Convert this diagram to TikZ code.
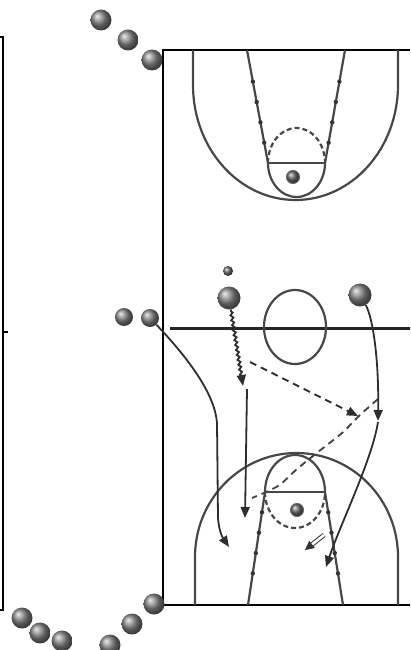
\documentclass[tikz,border=0pt]{standalone}
\usetikzlibrary{arrows.meta,decorations.pathmorphing,decorations.markings}
\begin{document}
\begin{tikzpicture}[x=1pt,y=-1pt,
  frame/.style={draw=black, line width=2.8pt},
  court/.style={draw=black!72, line width=2.2pt},
  hashdot/.style={fill=black!80},
  lanemarks/.style={court, postaction={decorate}, decoration={markings,
     mark=at position 0.28 with {\fill[hashdot] (0,0) circle (2.2pt);},
     mark=at position 0.46 with {\fill[hashdot] (0,0) circle (2.2pt);},
     mark=at position 0.64 with {\fill[hashdot] (0,0) circle (2.2pt);},
     mark=at position 0.82 with {\fill[hashdot] (0,0) circle (2.2pt);}}},
  player/.style={circle, inner sep=0pt, minimum size=21pt, shading=ball, ball color=black!48},
  smallplayer/.style={player, minimum size=18pt},
  bigplayer/.style={player, minimum size=23pt},
  ballnode/.style={circle, inner sep=0pt, minimum size=10pt, shading=ball, ball color=black!60},
  rimball/.style={ballnode, minimum size=13pt, draw=black!60, line width=1pt},
  move/.style={draw=black!82, line width=1.8pt, -{Triangle[length=11pt,width=9pt]}},
  pass/.style={move, dash pattern=on 7pt off 5pt},
  passline/.style={draw=black!75, line width=1.8pt, dash pattern=on 7pt off 5pt},
  dribble/.style={move, decorate, decoration={zigzag, segment length=5pt, amplitude=1.3pt, pre length=2pt, post length=10pt}},
  handoff/.style={draw=black!80, line width=1pt, double distance=2.6pt, -{Triangle[length=9pt,width=9pt]}}
]
\useasboundingbox (0,0) rectangle (410,650);
\clip (0,0) rectangle (410,650);

% frames
\draw[frame] (-5,37) -- (3,37) -- (3,610) -- (-5,610);
\draw[line width=1.2pt] (3,332) -- (8,332);
\draw[frame] (420,50) -- (163,50) -- (163,605) -- (420,605);

% top half court
\draw[court] (193,50) -- (193,85) arc[start angle=180, end angle=0, x radius=102.5, y radius=115] -- (398,50);
\draw[lanemarks] (247,50) -- (268,163);
\draw[lanemarks] (345,50) -- (325,163);
\draw[court] (268,163) -- (325,163);
\draw[court] (268,163) arc[start angle=180, end angle=0, x radius=28.5, y radius=34];
\draw[court, dash pattern=on 5pt off 3pt] (268,163) arc[start angle=180, end angle=360, x radius=28.5, y radius=35];
\node[rimball] (rimT) at (293,177) {};

% centre
\draw[draw=black!85, line width=3pt] (170,328) -- (420,328);
\draw[court] (295,327) ellipse[x radius=31, y radius=37];

% bottom half court
\draw[court] (195,605) -- (195,557) arc[start angle=180, end angle=360, x radius=101.5, y radius=104] -- (398,605);
\draw[lanemarks] (248,605) -- (265,492);
\draw[lanemarks] (343,605) -- (325,492);
\draw[court] (265,492) -- (325,492);
\draw[court] (265,492) arc[start angle=180, end angle=360, x radius=30, y radius=37];
\draw[court, dash pattern=on 5pt off 3pt] (265,492) arc[start angle=180, end angle=0, x radius=30, y radius=36];
\node[rimball] (rimB) at (297,510) {};

% players
\node[player] (T1) at (101,20) {};
\node[player] (T2) at (128,40) {};
\node[player] (T3) at (152,60) {};
\node[smallplayer] (M1) at (124,317) {};
\node[smallplayer] (M2) at (150,318) {};
\node[bigplayer] (P1) at (229,298) {};
\node[ballnode] (bA) at (228,271) {};
\node[bigplayer] (P2) at (360,295) {};
\node[player] (B1) at (22,618) {};
\node[player] (B2) at (40,633) {};
\node[player] (B3) at (62,641) {};
\node[player] (B4) at (110,645) {};
\node[player] (B5) at (132,624) {};
\node[player] (B6) at (154,604) {};

% movement coordinates
\coordinate (c1) at (229,547);
\coordinate (d1) at (243,386);
\coordinate (d2) at (247,389);
\coordinate (d3) at (245,518);
\coordinate (q1) at (250,362);
\coordinate (q2) at (358,416);
\coordinate (r1) at (378,421);
\coordinate (r2) at (378,422);
\coordinate (r3) at (326,567);
\coordinate (s1) at (378,399);
\coordinate (s2) at (252,498);
\coordinate (h1) at (324,535);
\coordinate (h2) at (305,550);

% cutter from the left
\draw[move] (M2) .. controls (190,360) and (215,395) .. (217,423) -- (218,518) .. controls (219,532) and (223,538) .. (c1);
% dribble and cut
\draw[dribble] (P1) -- (d1);
\draw[move] (d2) -- (d3);
% passes
\draw[pass] (q1) -- (q2);
\draw[passline] plot[smooth] coordinates {(s1) (360,415) (342,433) (318,452) (297,469) (278,486) (s2)};
% right player
\draw[move] (P2) .. controls (373,318) and (379,360) .. (r1);
\draw[move] (r2) .. controls (372,460) and (340,525) .. (r3);
% double arrow
\draw[handoff] (h1) -- (h2);
\end{tikzpicture}
\end{document}
